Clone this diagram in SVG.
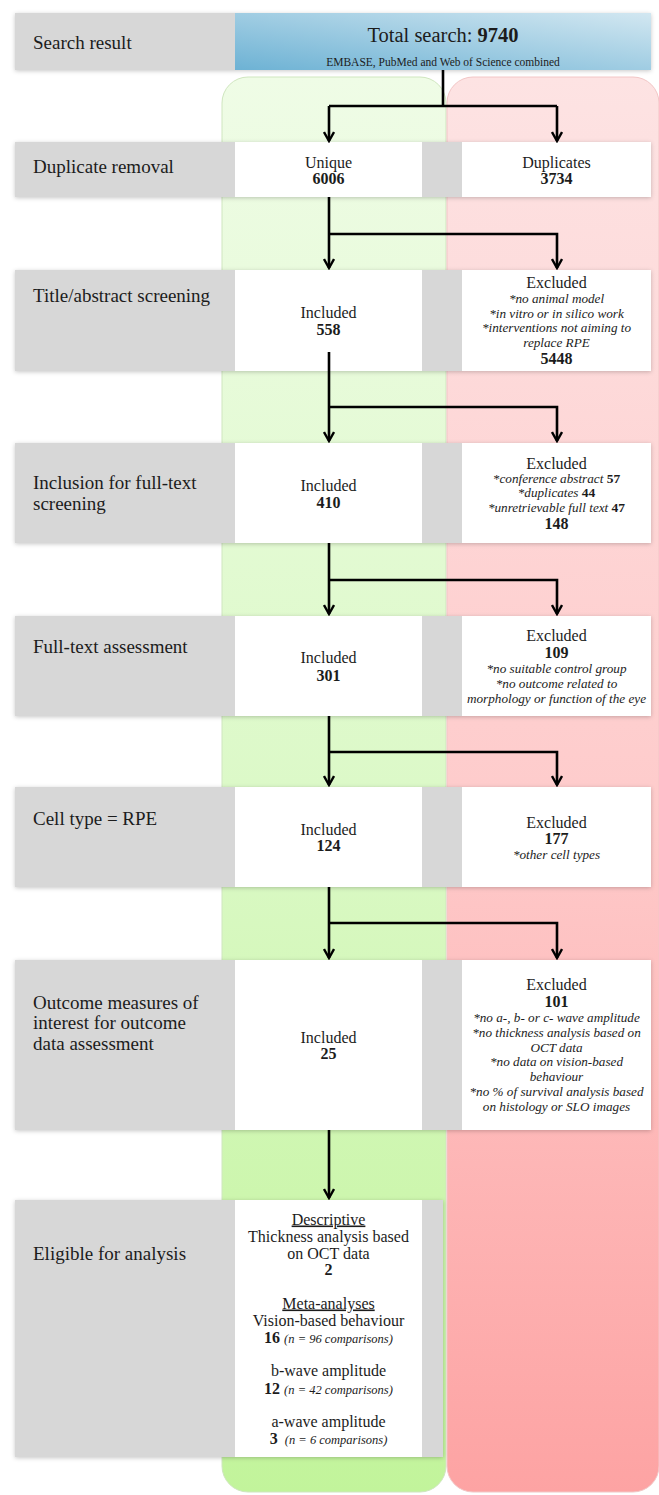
<svg xmlns="http://www.w3.org/2000/svg" width="659" height="1495" viewBox="0 0 659 1495">
<defs>
<linearGradient id="gGreen" x1="0" y1="0" x2="0" y2="1">
<stop offset="0" stop-color="#effce6"/>
<stop offset="0.5" stop-color="#dcf9c8"/>
<stop offset="1" stop-color="#c2f49b"/>
</linearGradient>
<linearGradient id="gRed" x1="0" y1="0" x2="0" y2="1">
<stop offset="0" stop-color="#fde3e3"/>
<stop offset="0.5" stop-color="#fecccc"/>
<stop offset="1" stop-color="#fda3a3"/>
</linearGradient>
<linearGradient id="gBlue" x1="0" y1="1" x2="1" y2="0">
<stop offset="0" stop-color="#6db2d4"/>
<stop offset="1" stop-color="#d2e7f1"/>
</linearGradient>
<filter id="sh" x="-5%" y="-20%" width="110%" height="140%">
<feDropShadow dx="0" dy="1" stdDeviation="2" flood-color="#000" flood-opacity="0.22"/>
</filter>
<marker id="arr" viewBox="0 0 12 12" refX="10.5" refY="6" markerWidth="12" markerHeight="12" markerUnits="userSpaceOnUse" orient="auto">
<path d="M1.5,1 L10.5,6 L1.5,11" fill="none" stroke="#000" stroke-width="2.4"/>
</marker>
</defs>
<style>
text{font-family:"Liberation Serif","Times New Roman",serif;fill:#1c1c1c}
.row{fill:#d7d7d7;filter:url(#sh)}
.box{fill:#ffffff}
.ttl{font-size:19px}
.c{font-size:16px;text-anchor:middle}
.i{font-size:13.2px;font-style:italic;text-anchor:middle}
.b{font-weight:bold;font-style:normal}
.sm{font-size:12.5px;font-style:italic}
.con{fill:none;stroke:#000;stroke-width:2.6}
.ar{marker-end:url(#arr)}
</style>

<g id="panels">
<rect x="222" y="77" width="224" height="1415" rx="26" fill="url(#gGreen)" stroke="#cfe6bf" stroke-width="1"/>
<rect x="447" y="77" width="212" height="1415" rx="26" fill="url(#gRed)" stroke="#f2c6c6" stroke-width="1"/>
</g>

<g id="search-result">
<rect class="row" x="15" y="13" width="636" height="57"/>
<rect x="235" y="13" width="416" height="57" fill="url(#gBlue)"/>
<text class="ttl" x="33" y="48.5">Search result</text>
<text x="443" y="42" font-size="20.5" text-anchor="middle">Total search: <tspan class="b">9740</tspan></text>
<text x="443" y="66" font-size="11.5" text-anchor="middle">EMBASE, PubMed and Web of Science combined</text>
</g>

<g id="duplicate-removal">
<rect class="row" x="15" y="142" width="636" height="55"/>
<rect class="box" x="235" y="142" width="187" height="55"/>
<rect class="box" x="462" y="142" width="189" height="55"/>
<text class="ttl" x="33" y="173">Duplicate removal</text>
<text class="c" x="328.5" y="167.5">Unique</text>
<text class="c b" x="328.5" y="184">6006</text>
<text class="c" x="556.5" y="167.5">Duplicates</text>
<text class="c b" x="556.5" y="184">3734</text>
</g>

<g id="title-abstract">
<rect class="row" x="15" y="270" width="636" height="101"/>
<rect class="box" x="235" y="270" width="187" height="101"/>
<rect class="box" x="462" y="270" width="189" height="101"/>
<text class="ttl" x="33" y="302">Title/abstract screening</text>
<text class="c" x="328.5" y="317.5">Included</text>
<text class="c b" x="328.5" y="334.5">558</text>
<text class="c" x="556.5" y="287.5">Excluded</text>
<text class="i" x="556.5" y="303">*no animal model</text>
<text class="i" x="556.5" y="317.5">*in vitro or in silico work</text>
<text class="i" x="556.5" y="332">*interventions not aiming to</text>
<text class="i" x="556.5" y="347">replace RPE</text>
<text class="c b" x="556.5" y="363.5">5448</text>
</g>

<g id="full-text-inclusion">
<rect class="row" x="15" y="443" width="636" height="100"/>
<rect class="box" x="235" y="443" width="187" height="100"/>
<rect class="box" x="462" y="443" width="189" height="100"/>
<text class="ttl" x="33" y="489">Inclusion for full-text</text>
<text class="ttl" x="33" y="510">screening</text>
<text class="c" x="328.5" y="490.5">Included</text>
<text class="c b" x="328.5" y="507.5">410</text>
<text class="c" x="556.5" y="468.5">Excluded</text>
<text class="i" x="556.5" y="482.5">*conference abstract <tspan class="b" font-size="13.5">57</tspan></text>
<text class="i" x="556.5" y="497">*duplicates <tspan class="b" font-size="13.5">44</tspan></text>
<text class="i" x="556.5" y="511.5">*unretrievable full text <tspan class="b" font-size="13.5">47</tspan></text>
<text class="c b" x="556.5" y="528.5">148</text>
</g>

<g id="full-text-assessment">
<rect class="row" x="15" y="616" width="636" height="100"/>
<rect class="box" x="235" y="616" width="187" height="100"/>
<rect class="box" x="462" y="616" width="189" height="100"/>
<text class="ttl" x="33" y="653">Full-text assessment</text>
<text class="c" x="328.5" y="662.5">Included</text>
<text class="c b" x="328.5" y="680.5">301</text>
<text class="c" x="556.5" y="640.5">Excluded</text>
<text class="c b" x="556.5" y="657.5">109</text>
<text class="i" x="556.5" y="672.5">*no suitable control group</text>
<text class="i" x="556.5" y="687.5">*no outcome related to</text>
<text class="i" x="556.5" y="703">morphology or function of the eye</text>
</g>

<g id="cell-type">
<rect class="row" x="15" y="787" width="636" height="100"/>
<rect class="box" x="235" y="787" width="187" height="100"/>
<rect class="box" x="462" y="787" width="189" height="100"/>
<text class="ttl" x="33" y="825">Cell type = RPE</text>
<text class="c" x="328.5" y="834.5">Included</text>
<text class="c b" x="328.5" y="851">124</text>
<text class="c" x="556.5" y="827.5">Excluded</text>
<text class="c b" x="556.5" y="843.5">177</text>
<text class="i" x="556.5" y="858.5">*other cell types</text>
</g>

<g id="outcome-measures">
<rect class="row" x="15" y="960" width="636" height="170"/>
<rect class="box" x="235" y="960" width="187" height="170"/>
<rect class="box" x="462" y="960" width="189" height="170"/>
<text class="ttl" x="33" y="1008.5">Outcome measures of</text>
<text class="ttl" x="33" y="1029">interest for outcome</text>
<text class="ttl" x="33" y="1049.5">data assessment</text>
<text class="c" x="328.5" y="1042.5">Included</text>
<text class="c b" x="328.5" y="1059">25</text>
<text class="c" x="556.5" y="989.5">Excluded</text>
<text class="c b" x="556.5" y="1007">101</text>
<text class="i" x="556.5" y="1022">*no a-, b- or c- wave amplitude</text>
<text class="i" x="556.5" y="1036.8">*no thickness analysis based on</text>
<text class="i" x="556.5" y="1051.6">OCT data</text>
<text class="i" x="556.5" y="1066.4">*no data on vision-based</text>
<text class="i" x="556.5" y="1081.2">behaviour</text>
<text class="i" x="556.5" y="1096">*no % of survival analysis based</text>
<text class="i" x="556.5" y="1110.8">on histology or SLO images</text>
</g>

<g id="eligible">
<rect class="row" x="15" y="1200" width="428" height="257"/>
<rect class="box" x="235" y="1200" width="187" height="257"/>
<text class="ttl" x="33" y="1260">Eligible for analysis</text>
<text class="c" x="328.5" y="1224.5" text-decoration="underline">Descriptive</text>
<text class="c" x="328.5" y="1241.5">Thickness analysis based</text>
<text class="c" x="328.5" y="1258.5">on OCT data</text>
<text class="c b" x="328.5" y="1275">2</text>
<text class="c" x="328.5" y="1308.5" text-decoration="underline">Meta-analyses</text>
<text class="c" x="328.5" y="1325.5">Vision-based behaviour</text>
<text class="c" x="328.5" y="1343"><tspan class="b">16 </tspan><tspan class="sm">(n = 96 comparisons)</tspan></text>
<text class="c" x="328.5" y="1375.5">b-wave amplitude</text>
<text class="c" x="328.5" y="1393.5"><tspan class="b">12 </tspan><tspan class="sm">(n = 42 comparisons)</tspan></text>
<text class="c" x="328.5" y="1426.5">a-wave amplitude</text>
<text class="c" x="328.5" y="1444"><tspan class="b">3 </tspan><tspan class="sm">&#160;(n = 6 comparisons)</tspan></text>
</g>

<g id="connectors">
<path class="con" d="M443,70 V106"/>
<path class="con" d="M329,106 H557"/>
<path class="con ar" d="M329,106 V141"/>
<path class="con ar" d="M557,106 V141"/>
<path class="con ar" d="M329,197 V268"/>
<path class="con ar" d="M329,234 H557 V268"/>
<path class="con ar" d="M329,352 V441"/>
<path class="con ar" d="M329,407 H557 V441"/>
<path class="con ar" d="M329,543 V614"/>
<path class="con ar" d="M329,580 H557 V614"/>
<path class="con ar" d="M329,716 V785"/>
<path class="con ar" d="M329,752 H557 V785"/>
<path class="con ar" d="M329,887 V958"/>
<path class="con ar" d="M329,923 H557 V958"/>
<path class="con ar" d="M329,1130 V1198"/>
</g>
</svg>
